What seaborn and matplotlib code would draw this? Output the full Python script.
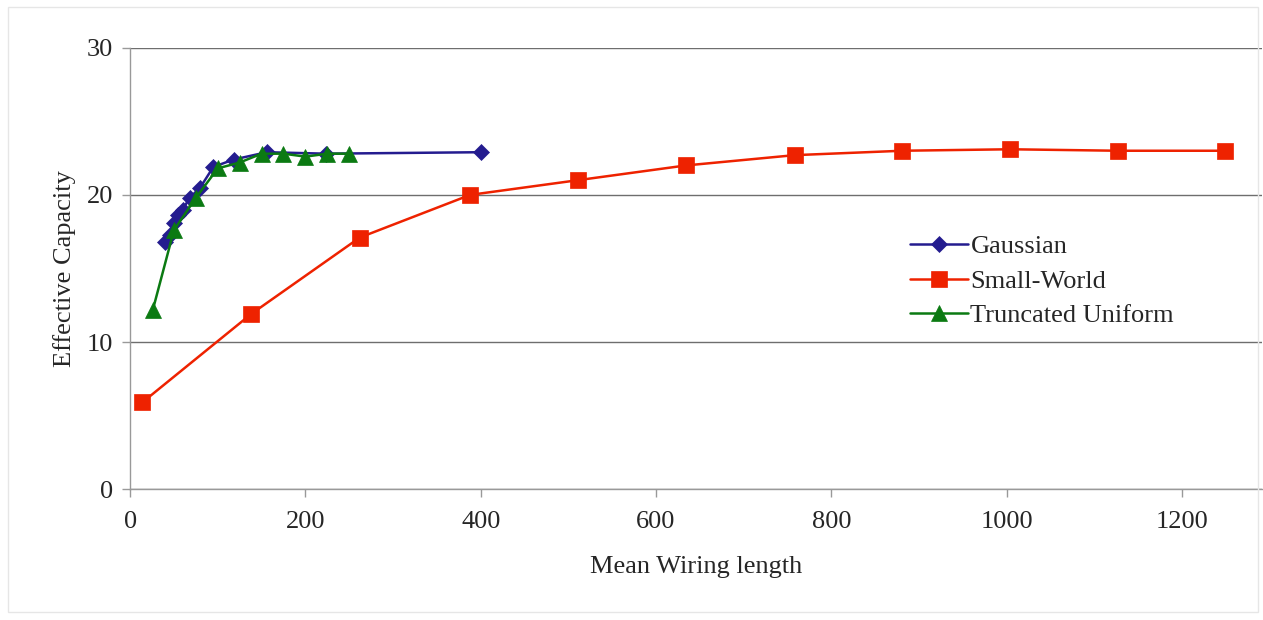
import matplotlib
matplotlib.use("Agg")
import matplotlib.pyplot as plt
import seaborn as sns
import pandas as pd

# Data
gauss_x = [40, 45, 50, 55, 60, 68, 80, 95, 118, 156, 224, 400]
gauss_y = [16.8, 17.3, 18.1, 18.6, 19.0, 19.8, 20.5, 21.9, 22.4, 22.9, 22.8, 22.9]

sw_x = [14, 138, 262, 388, 511, 634, 758, 881, 1004, 1127, 1249]
sw_y = [5.9, 11.9, 17.1, 20.0, 21.0, 22.0, 22.7, 23.0, 23.1, 23.0, 23.0]

tu_x = [26, 50, 75, 100, 125, 150, 175, 200, 225, 250]
tu_y = [12.2, 17.6, 19.8, 21.8, 22.2, 22.8, 22.8, 22.6, 22.8, 22.8]

series_names = ["Gaussian", "Small-World", "Truncated Uniform"]
colors = ["#241c8f", "#ee2200", "#0b7a12"]
markers = ["D", "s", "^"]
msizes = [8, 11, 11]

sns.set_style("white")
plt.rcParams["font.family"] = ["Liberation Serif", "DejaVu Serif"]

fig = plt.figure(figsize=(12.63, 6.20), dpi=100)
ax = fig.add_axes([0.103, 0.211, 0.896, 0.712])

frames = [
    pd.DataFrame({"x": gauss_x, "y": gauss_y}),
    pd.DataFrame({"x": sw_x, "y": sw_y}),
    pd.DataFrame({"x": tu_x, "y": tu_y}),
]

for df, name, c, m, ms in zip(frames, series_names, colors, markers, msizes):
    sns.lineplot(data=df, x="x", y="y", ax=ax, color=c, marker=m,
                 markersize=ms, markeredgecolor=c, markeredgewidth=0.5,
                 linewidth=1.8, sort=False, estimator=None, label=name)

ax.set_xlim(0, 1291)
ax.set_ylim(0, 30)
ax.set_xticks([0, 200, 400, 600, 800, 1000, 1200])
ax.set_yticks([0, 10, 20, 30])
ax.yaxis.grid(True, color="#6e6e6e", linewidth=1.0)
ax.xaxis.grid(False)
ax.set_axisbelow(True)

for s in ["top", "right"]:
    ax.spines[s].set_visible(False)
for s in ["left", "bottom"]:
    ax.spines[s].set_color("#999999")
    ax.spines[s].set_linewidth(1.0)

ax.tick_params(axis="both", which="major", labelsize=19, direction="out",
               length=6, color="#999999", width=1.0, pad=6, bottom=True, left=True)
ax.tick_params(axis="x", pad=10)

ax.set_xlabel("Mean Wiring length", fontsize=19, labelpad=16)
ax.set_ylabel("Effective Capacity", fontsize=19, labelpad=8)

ax.legend(loc="upper left", bbox_to_anchor=(0.668, 0.63), frameon=False,
          fontsize=19, handlelength=2.2, handletextpad=0.1, labelspacing=0.42)

# faint page border
fig.patches.append(plt.Rectangle((0.006, 0.013), 0.99, 0.975, transform=fig.transFigure,
                                 fill=False, edgecolor="#e6e6e6", linewidth=1.0))

plt.savefig("out.png", dpi=100)
plt.close()
